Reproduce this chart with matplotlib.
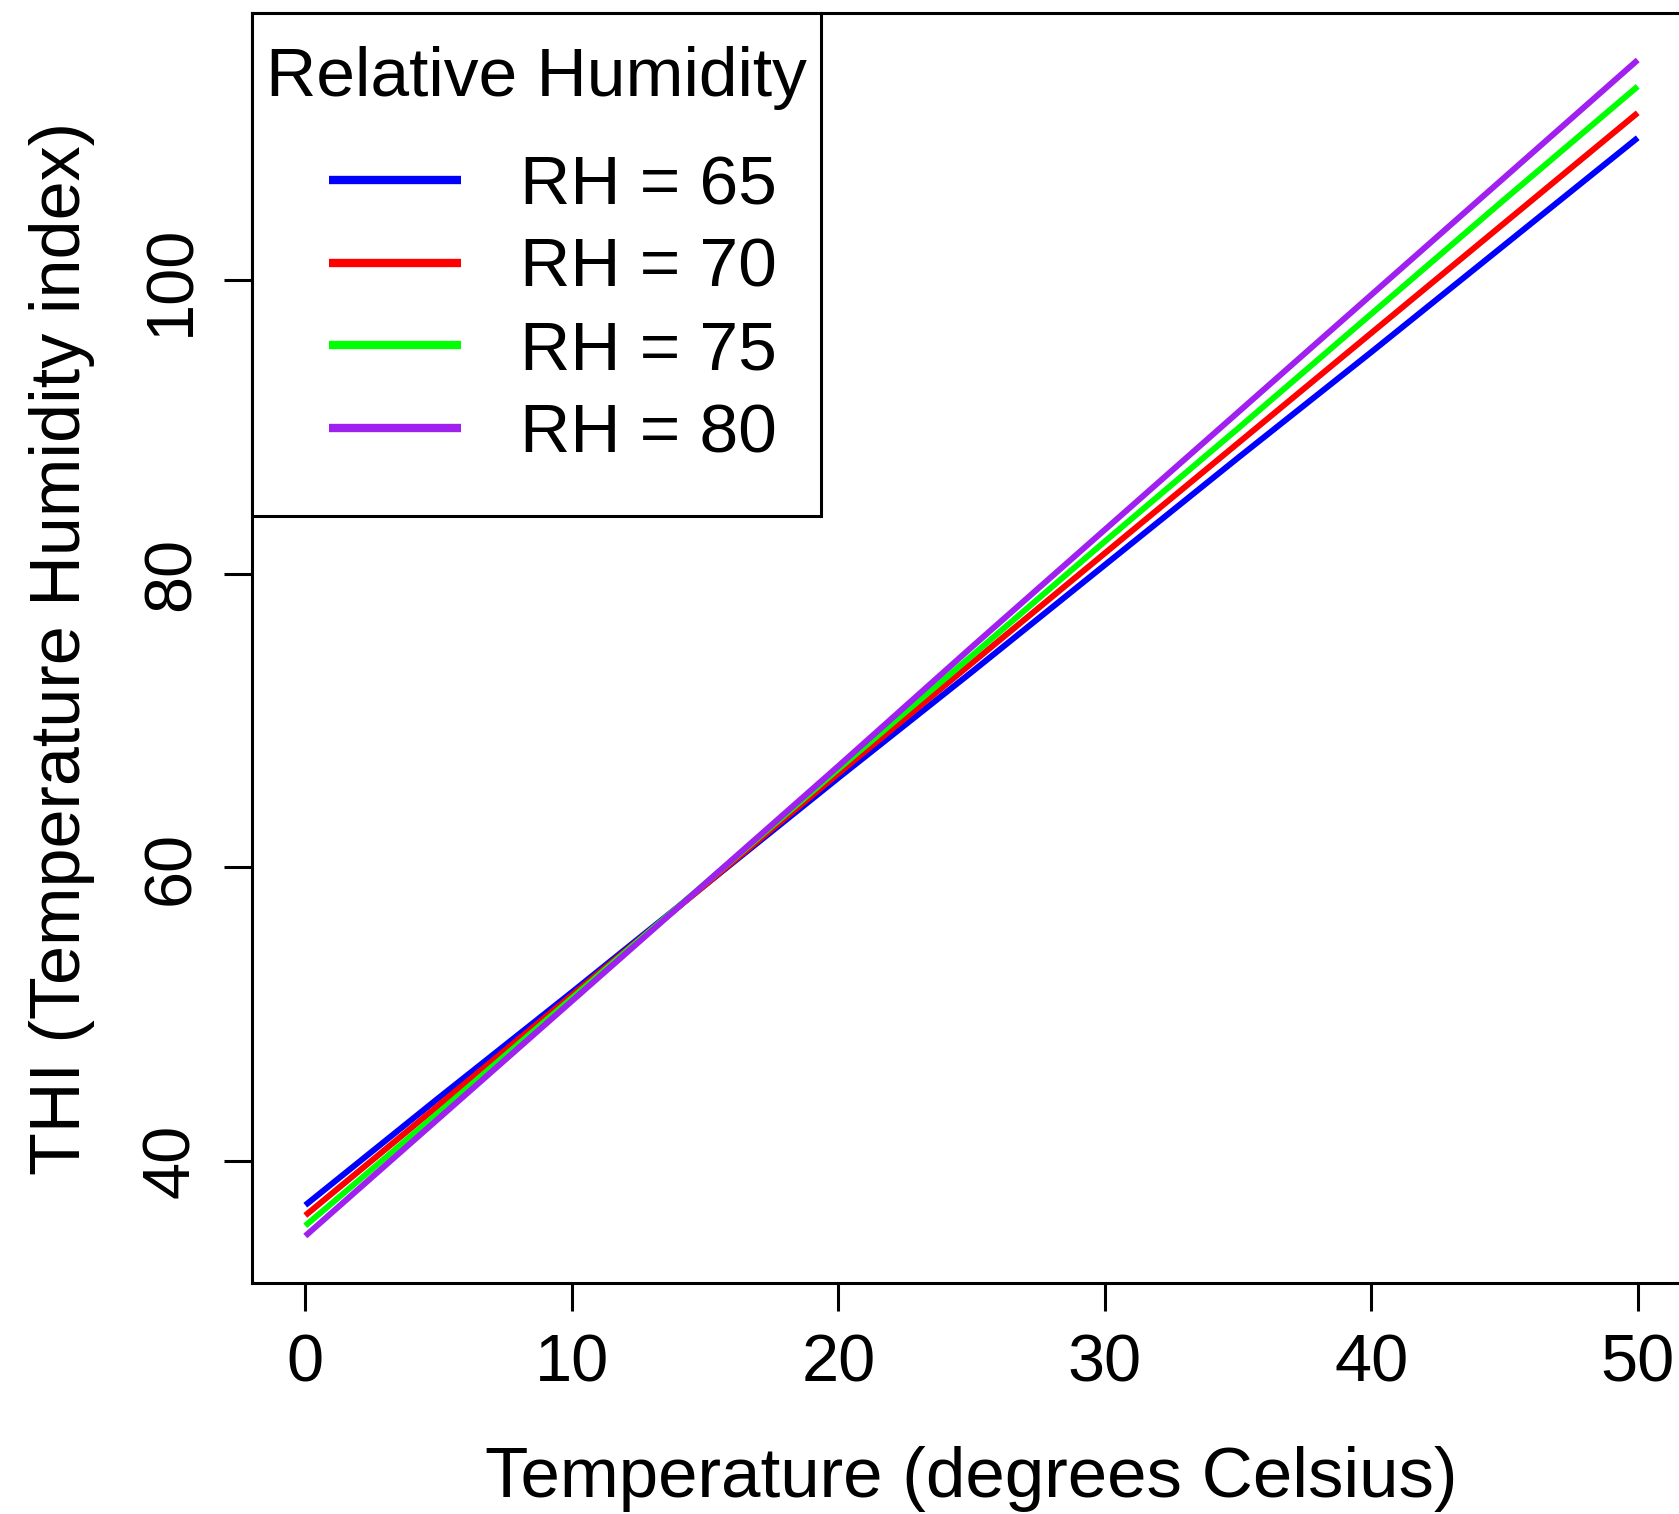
import matplotlib
matplotlib.use("Agg")
import matplotlib.pyplot as plt
from matplotlib.offsetbox import DrawingArea, HPacker

plt.rcParams['font.family'] = ['Liberation Sans', 'DejaVu Sans']

temperature = [0, 5, 10, 15, 20, 25, 30, 35, 40, 45, 50]
thi_rh65 = [37.0, 44.3, 51.5, 58.8, 66.1, 73.3, 80.6, 87.9, 95.1, 102.4, 109.7]
thi_rh70 = [36.3, 43.8, 51.3, 58.8, 66.4, 73.9, 81.4, 88.9, 96.4, 103.9, 111.4]
thi_rh75 = [35.6, 43.3, 51.1, 58.9, 66.7, 74.4, 82.2, 89.9, 97.7, 105.5, 113.2]
thi_rh80 = [34.9, 42.9, 50.9, 58.9, 66.9, 75.0, 83.0, 91.0, 99.0, 107.0, 115.0]
series_labels = ["RH = 65", "RH = 70", "RH = 75", "RH = 80"]
series_colors = ["#0000FF", "#FF0000", "#00FF00", "#A020F0"]
x_ticks = [0, 10, 20, 30, 40, 50]
y_ticks = [40, 60, 80, 100]

W, H = 1679, 1514
fig = plt.figure(figsize=(W / 100, H / 100), dpi=100)
left, right, top, bottom = 252, 1691, 13, 1283
ax = fig.add_axes([left / W, 1 - bottom / H, (right - left) / W, (bottom - top) / H])

for y, lab, c in zip([thi_rh65, thi_rh70, thi_rh75, thi_rh80], series_labels, series_colors):
    ax.plot(temperature, y, color=c, lw=4.3, label=lab, solid_capstyle='butt')

ax.set_xlim(-2, 52)
ax.set_ylim(31.7, 118.2)
ax.set_xticks(x_ticks)
ax.set_yticks(y_ticks)
ax.tick_params(axis='both', length=20, width=2.2, labelsize=48)
ax.tick_params(axis='x', pad=16)
ax.tick_params(axis='y', pad=15)
for lbl in ax.get_yticklabels():
    lbl.set_rotation(90)
    lbl.set_va('center')
for s in ax.spines.values():
    s.set_linewidth(2.2)

ax.set_xlabel("Temperature (degrees Celsius)", fontsize=51)
ax.set_ylabel("THI (Temperature Humidity index)", fontsize=50.5)
ax.xaxis.set_label_coords(0.5, -0.154)
ax.xaxis.label.set_va('center')
ax.yaxis.set_label_coords(-0.132, 0.5)
ax.yaxis.label.set_va('center')

fs = 50
ls = 0.27
leg = ax.legend(title="Relative Humidity", loc='upper left', bbox_to_anchor=(0, 1),
                borderaxespad=0, fontsize=fs, title_fontsize=fs, fancybox=False,
                framealpha=1, edgecolor='black', handlelength=1.9, handletextpad=0.85,
                labelspacing=ls, borderpad=0.2)
leg.get_frame().set_linewidth(2.2)
for h in leg.get_lines():
    h.set_linewidth(6)
# extra spacing inside the legend box (top, between title and entries, bottom, entry indent)
box = leg._legend_box
kids = box._children
kids.insert(0, DrawingArea(0, 0))
kids.insert(2, DrawingArea(0, 5))
kids[3] = HPacker(children=[DrawingArea(24, 0), kids[3]], pad=0, sep=0, align='baseline')
kids.append(DrawingArea(0, 12))

fig.savefig("out.png", dpi=100)
